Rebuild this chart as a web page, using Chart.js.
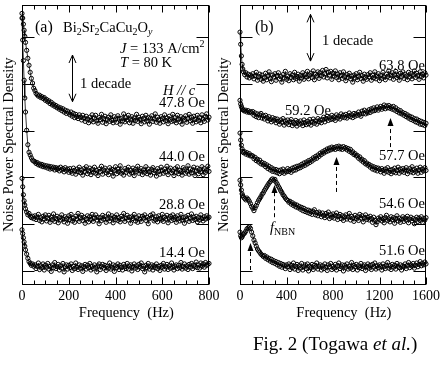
<!DOCTYPE html>
<html><head><meta charset="utf-8">
<script src="https://cdn.jsdelivr.net/npm/chart.js@4.4.1/dist/chart.umd.min.js"></script>
<style>
html,body{margin:0;padding:0;background:#fff;}
body{width:443px;height:375px;position:relative;overflow:hidden;font-family:'Liberation Serif','Times New Roman',serif;}
#ca{position:absolute;left:0;top:0;width:225px;height:330px;}
#cb{position:absolute;left:212px;top:0;width:231px;height:330px;}
#cap{position:absolute;left:253px;top:334px;font-size:19px;line-height:19px;white-space:nowrap;color:#000;}
</style></head><body>
<canvas id="ca" width="225" height="330"></canvas>
<canvas id="cb" width="231" height="330"></canvas>
<div id="cap">Fig. 2 (Togawa <i>et al.</i>)</div>
<script>
// ---------- DATA (values are log10 of noise power spectral density, arbitrary units) ----------
const freqA = [0,3,6,9,12,15,20,25,30,35,40,45,50,
 55,60,65,70,75,80,85,90,95,100, 105,110,115,120,125,130,135,140,145,150,
 155,160,165,170,175,180,185,190,195,200, 205,210,215,220,225,230,235,240,245,250,
 255,260,265,270,275,280,285,290,295,300, 305,310,315,320,325,330,335,340,345,350,
 355,360,365,370,375,380,385,390,395,400, 405,410,415,420,425,430,435,440,445,450,
 455,460,465,470,475,480,485,490,495,500, 505,510,515,520,525,530,535,540,545,550,
 555,560,565,570,575,580,585,590,595,600, 605,610,615,620,625,630,635,640,645,650,
 655,660,665,670,675,680,685,690,695,700, 705,710,715,720,725,730,735,740,745,750,
 755,760,765,770,775,780,785,790,795,800];
const freqB = [0,6,12,18,24,30,40,50,60,70,80,90,100,
 110,120,130,140,150,160,170,180,190,200, 210,220,230,240,250,260,270,280,290,300,
 310,320,330,340,350,360,370,380,390,400, 410,420,430,440,450,460,470,480,490,500,
 510,520,530,540,550,560,570,580,590,600, 610,620,630,640,650,660,670,680,690,700,
 710,720,730,740,750,760,770,780,790,800, 810,820,830,840,850,860,870,880,890,900,
 910,920,930,940,950,960,970,980,990,1000, 1010,1020,1030,1040,1050,1060,1070,1080,1090,1100,
 1110,1120,1130,1140,1150,1160,1170,1180,1190,1200, 1210,1220,1230,1240,1250,1260,1270,1280,1290,1300,
 1310,1320,1330,1340,1350,1360,1370,1380,1390,1400, 1410,1420,1430,1440,1450,1460,1470,1480,1490,1500,
 1510,1520,1530,1540,1550,1560,1570,1580,1590,1600];

const labelsA = ['47.8 Oe','44.0 Oe','28.8 Oe','14.4 Oe'];
const labelsB = ['63.8 Oe','59.2 Oe','57.7 Oe','54.6 Oe','51.6 Oe'];

const logS_478 = [5.51,5.41,5.28,5.15,5.02,4.89,4.72,4.55,4.40,4.25,4.12,4.02,3.91,
 3.86,3.80,3.77,3.74,3.76,3.71,3.73,3.69,3.71,3.65, 3.67,3.62,3.64,3.58,3.61,3.55,3.57,3.52,3.54,3.49,
 3.51,3.46,3.49,3.43,3.47,3.40,3.44,3.37,3.42,3.38, 3.34,3.40,3.31,3.37,3.28,3.35,3.30,3.26,3.34,3.29,
 3.23,3.33,3.27,3.20,3.31,3.25,3.17,3.29,3.22,3.34, 3.19,3.27,3.33,3.21,3.16,3.28,3.24,3.35,3.18,3.26,
 3.31,3.15,3.24,3.29,3.20,3.34,3.22,3.17,3.30,3.25, 3.18,3.32,3.27,3.14,3.26,3.21,3.36,3.19,3.28,3.23,
 3.33,3.17,3.25,3.30,3.16,3.27,3.22,3.35,3.20,3.29, 3.24,3.15,3.31,3.26,3.19,3.33,3.21,3.28,3.14,3.27,
 3.32,3.20,3.25,3.36,3.18,3.29,3.23,3.16,3.30,3.26, 3.19,3.34,3.22,3.27,3.15,3.31,3.24,3.20,3.35,3.21,
 3.28,3.17,3.33,3.25,3.19,3.30,3.14,3.27,3.23,3.32, 3.18,3.26,3.35,3.21,3.29,3.16,3.31,3.24,3.19,3.33,
 3.22,3.28,3.17,3.34,3.25,3.20,3.30,3.36,3.23,3.29];
const logS_440 = [5.41,4.94,4.50,4.08,3.70,3.40,3.01,2.70,2.54,2.48,2.42,2.37,2.35,
 2.34,2.30,2.32,2.27,2.29,2.25,2.28,2.23,2.26,2.22, 2.25,2.20,2.24,2.18,2.23,2.19,2.22,2.16,2.21,2.17,
 2.20,2.14,2.22,2.16,2.19,2.12,2.21,2.15,2.18,2.11, 2.19,2.13,2.09,2.20,2.15,2.07,2.18,2.12,2.22,2.10,
 2.16,2.05,2.19,2.13,2.23,2.08,2.14,2.20,2.06,2.17, 2.11,2.22,2.09,2.15,2.04,2.18,2.13,2.24,2.07,2.16,
 2.20,2.10,2.14,2.06,2.21,2.12,2.17,2.03,2.15,2.23, 2.08,2.18,2.12,2.25,2.09,2.14,2.05,2.19,2.11,2.16,
 2.22,2.07,2.15,2.10,2.20,2.04,2.17,2.13,2.24,2.09, 2.14,2.19,2.06,2.16,2.11,2.23,2.08,2.18,2.12,2.05,
 2.17,2.21,2.10,2.14,2.03,2.19,2.13,2.07,2.22,2.15, 2.09,2.18,2.12,2.24,2.06,2.16,2.20,2.10,2.14,2.04,
 2.19,2.11,2.23,2.08,2.15,2.12,2.05,2.21,2.17,2.09, 2.13,2.25,2.07,2.18,2.10,2.16,2.22,2.04,2.14,2.20,
 2.08,2.17,2.12,2.23,2.06,2.19,2.11,2.15,2.24,2.13];
const logS_288 = [1.98,1.80,1.63,1.50,1.41,1.33,1.26,1.20,1.23,1.17,1.14,1.17,1.12,
 1.18,1.10,1.15,1.21,1.08,1.14,1.05,1.17,1.11,1.20, 1.07,1.13,1.19,1.04,1.15,1.10,1.22,1.06,1.12,1.17,
 1.03,1.14,1.09,1.20,1.11,1.05,1.16,1.12,1.02,1.18, 1.10,1.21,1.07,1.13,1.04,1.17,1.11,1.23,1.06,1.14,
 1.19,1.08,1.15,1.02,1.12,1.18,1.05,1.16,1.10,1.21, 1.06,1.13,1.20,1.09,1.15,1.01,1.14,1.08,1.19,1.11,
 1.16,1.04,1.12,1.22,1.07,1.13,1.18,1.03,1.15,1.10, 1.20,1.08,1.14,1.05,1.17,1.11,1.23,1.06,1.13,1.19,
 1.09,1.15,1.02,1.16,1.12,1.21,1.07,1.14,1.04,1.18, 1.11,1.06,1.17,1.13,1.20,1.08,1.15,1.01,1.12,1.19,
 1.14,1.22,1.07,1.10,1.16,1.05,1.18,1.12,1.09,1.21, 1.06,1.15,1.11,1.19,1.03,1.13,1.17,1.08,1.20,1.10,
 1.15,1.04,1.18,1.12,1.07,1.21,1.09,1.14,1.02,1.16, 1.11,1.19,1.06,1.13,1.22,1.08,1.15,1.10,1.17,1.05,
 1.14,1.09,1.20,1.12,1.07,1.16,1.11,1.18,1.13,1.15];
const logS_144 = [0.88,0.80,0.71,0.62,0.53,0.45,0.36,0.27,0.20,0.16,0.12,0.15,0.10,
 0.13,0.05,0.10,0.17,0.03,0.11,0.07,0.15,0.02,0.12, 0.08,0.16,0.04,0.10,-0.01,0.13,0.07,0.18,0.05,0.09,
 0.14,0.02,0.11,0.06,0.16,-0.02,0.09,0.13,0.04,0.12, 0.07,0.15,0.01,0.10,0.05,0.17,0.08,0.03,0.13,0.06,
 0.11,-0.01,0.09,0.14,0.04,0.12,0.07,0.16,0.02,0.10, 0.05,0.13,0.08,-0.02,0.11,0.15,0.03,0.09,0.14,0.06,
 0.12,0.01,0.10,0.06,0.17,0.04,0.08,0.13,-0.01,0.11, 0.07,0.15,0.03,0.12,0.08,0.02,0.14,0.09,0.05,0.16,
 0.04,0.10,0.13,0.00,0.09,0.15,0.06,0.11,0.03,0.14, 0.08,0.17,0.05,0.10,-0.02,0.12,0.07,0.16,0.04,0.09,
 0.13,0.02,0.11,0.07,0.15,0.05,0.10,0.01,0.12,0.08, 0.16,0.04,0.09,0.14,0.03,0.11,0.06,0.17,0.08,0.02,
 0.10,0.13,0.05,0.12,0.07,0.18,0.04,0.09,0.15,0.06, 0.11,0.03,0.14,0.08,0.16,0.05,0.12,0.09,0.19,0.07,
 0.13,0.06,0.17,0.10,0.15,0.08,0.18,0.12,0.14,0.16];

const logS_638 = [5.11,4.85,4.60,4.42,4.32,4.26,4.20,4.24,4.15,4.21,4.13,4.19,4.16,
 4.22,4.11,4.18,4.25,4.08,4.16,4.21,4.10,4.19,4.06, 4.14,4.23,4.09,4.17,4.26,4.12,4.05,4.19,4.15,4.22,
 4.08,4.18,4.24,4.11,4.16,4.04,4.20,4.13,4.27,4.10, 4.17,4.07,4.22,4.14,4.19,4.09,4.25,4.12,4.16,4.21,
 4.06,4.18,4.13,4.24,4.10,4.20,4.15,4.27,4.11,4.19, 4.23,4.14,4.28,4.09,4.21,4.17,4.26,4.12,4.24,4.18,
 4.29,4.15,4.22,4.31,4.13,4.25,4.19,4.27,4.10,4.23, 4.17,4.28,4.14,4.21,4.09,4.24,4.18,4.12,4.26,4.16,
 4.07,4.20,4.14,4.23,4.11,4.17,4.04,4.19,4.13,4.22, 4.09,4.16,4.25,4.12,4.18,4.06,4.21,4.14,4.10,4.20,
 4.15,4.24,4.08,4.19,4.13,4.26,4.11,4.17,4.22,4.07, 4.18,4.12,4.25,4.15,4.09,4.21,4.16,4.28,4.13,4.19,
 4.24,4.10,4.20,4.27,4.14,4.18,4.08,4.23,4.16,4.26, 4.12,4.21,4.17,4.09,4.25,4.15,4.22,4.11,4.19,4.28,
 4.14,4.23,4.18,4.10,4.26,4.16,4.21,4.13,4.24,4.19];
const logS_592 = [3.65,3.57,3.52,3.48,3.45,3.44,3.42,3.44,3.40,3.43,3.39,3.41,3.38,
 3.41,3.33,3.38,3.30,3.36,3.28,3.34,3.37,3.27,3.32, 3.25,3.33,3.28,3.21,3.30,3.24,3.19,3.28,3.22,3.26,
 3.17,3.25,3.20,3.14,3.23,3.18,3.26,3.12,3.21,3.16, 3.23,3.13,3.19,3.24,3.11,3.18,3.15,3.22,3.10,3.19,
 3.14,3.21,3.16,3.11,3.23,3.17,3.13,3.20,3.15,3.24, 3.12,3.19,3.25,3.16,3.21,3.14,3.26,3.19,3.23,3.17,
 3.24,3.29,3.19,3.26,3.31,3.22,3.28,3.24,3.33,3.25, 3.30,3.22,3.34,3.27,3.31,3.25,3.36,3.29,3.33,3.28,
 3.35,3.27,3.32,3.38,3.30,3.34,3.28,3.37,3.31,3.36, 3.33,3.40,3.35,3.31,3.42,3.37,3.44,3.36,3.41,3.38,
 3.45,3.39,3.47,3.42,3.49,3.43,3.46,3.51,3.44,3.48, 3.52,3.46,3.50,3.55,3.47,3.53,3.49,3.54,3.48,3.51,
 3.46,3.52,3.44,3.49,3.41,3.45,3.38,3.43,3.36,3.39, 3.33,3.37,3.30,3.34,3.27,3.31,3.24,3.29,3.22,3.26,
 3.19,3.25,3.17,3.22,3.14,3.20,3.13,3.18,3.11,3.16];
const logS_577 = [2.95,2.80,2.69,2.61,2.56,2.53,2.55,2.50,2.53,2.48,2.51,2.46,2.47,
 2.46,2.40,2.43,2.36,2.39,2.33,2.37,2.29,2.32,2.27, 2.30,2.23,2.27,2.19,2.24,2.16,2.21,2.13,2.18,2.12,
 2.17,2.10,2.15,2.08,2.16,2.11,2.18,2.09,2.14,2.12, 2.19,2.13,2.17,2.11,2.20,2.15,2.22,2.16,2.24,2.19,
 2.25,2.21,2.28,2.24,2.31,2.26,2.33,2.29,2.36,2.32, 2.38,2.35,2.42,2.39,2.45,2.41,2.48,2.45,2.52,2.49,
 2.55,2.52,2.58,2.55,2.61,2.57,2.63,2.59,2.65,2.61, 2.64,2.60,2.66,2.62,2.67,2.61,2.65,2.60,2.66,2.62,
 2.64,2.59,2.62,2.56,2.60,2.53,2.55,2.49,2.51,2.46, 2.47,2.41,2.44,2.37,2.39,2.33,2.36,2.29,2.31,2.26,
 2.28,2.22,2.25,2.18,2.23,2.16,2.21,2.14,2.20,2.17, 2.12,2.19,2.15,2.09,2.18,2.13,2.21,2.11,2.16,2.08,
 2.17,2.12,2.20,2.10,2.15,2.22,2.09,2.18,2.13,2.19, 2.11,2.16,2.21,2.08,2.14,2.19,2.12,2.23,2.10,2.17,
 2.13,2.20,2.09,2.16,2.22,2.11,2.18,2.14,2.21,2.15];
const logS_546 = [1.94,1.84,1.73,1.65,1.61,1.58,1.55,1.52,1.56,1.53,1.49,1.44,1.38,
 1.34,1.29,1.35,1.40,1.46,1.51,1.55,1.59,1.64,1.67, 1.72,1.76,1.80,1.84,1.88,1.91,1.95,1.97,1.94,1.96,
 1.90,1.86,1.81,1.77,1.72,1.68,1.63,1.60,1.56,1.53, 1.51,1.47,1.49,1.43,1.46,1.40,1.43,1.37,1.41,1.35,
 1.38,1.32,1.36,1.29,1.34,1.27,1.31,1.25,1.30,1.23, 1.28,1.21,1.27,1.31,1.20,1.25,1.18,1.26,1.22,1.16,
 1.24,1.19,1.14,1.23,1.17,1.26,1.12,1.20,1.15,1.22, 1.13,1.19,1.24,1.10,1.17,1.21,1.12,1.18,1.08,1.16,
 1.20,1.11,1.15,1.23,1.09,1.17,1.13,1.06,1.19,1.12, 1.16,1.08,1.21,1.13,1.18,1.05,1.14,1.20,1.10,1.15,
 1.09,1.17,1.12,1.04,1.15,1.08,0.99,1.05,1.13,1.10, 1.16,1.07,1.12,1.03,1.14,1.19,1.08,1.11,1.05,1.16,
 1.10,1.14,1.02,1.12,1.18,1.07,1.13,1.04,1.11,1.16, 1.06,1.13,1.09,1.17,1.03,1.11,1.15,1.07,1.12,1.01,
 1.10,1.15,1.06,1.13,1.08,1.16,1.04,1.12,1.09,1.14];
const logS_516 = [0.83,0.75,0.71,0.73,0.77,0.79,0.81,0.85,0.90,0.92,0.94,0.91,0.83,
 0.75,0.66,0.60,0.53,0.47,0.43,0.40,0.36,0.34,0.31, 0.33,0.27,0.30,0.24,0.27,0.21,0.25,0.18,0.22,0.16,
 0.20,0.13,0.18,0.10,0.16,0.08,0.14,0.11,0.05,0.13, 0.09,0.15,0.03,0.12,0.07,0.17,0.04,0.10,0.14,0.01,
 0.11,0.06,0.16,0.02,0.09,0.13,0.05,0.15,0.00,0.10, 0.07,0.14,0.03,0.12,0.08,0.17,0.04,0.10,0.13,0.02,
 0.11,0.05,0.15,0.08,0.01,0.13,0.09,0.16,0.03,0.10, 0.06,0.14,0.02,0.11,0.17,0.05,0.09,0.13,0.00,0.12,
 0.08,0.15,0.04,0.10,0.06,0.18,0.03,0.12,0.09,0.14, 0.02,0.11,0.07,0.16,0.05,0.10,0.13,0.01,0.09,0.15,
 0.06,0.12,0.03,0.14,0.08,0.17,0.04,0.11,0.07,0.13, 0.10,0.02,0.15,0.09,0.05,0.12,0.18,0.06,0.11,0.03,
 0.14,0.08,0.12,0.04,0.16,0.10,0.07,0.13,0.02,0.11, 0.09,0.15,0.05,0.12,0.18,0.07,0.13,0.10,0.16,0.06,
 0.12,0.17,0.09,0.14,0.20,0.11,0.16,0.13,0.19,0.15];

const seriesA = [logS_478, logS_440, logS_288, logS_144];
const seriesB = [logS_638, logS_592, logS_577, logS_546, logS_516];

const xTicksA = [0,50,100,150,200,250,300,350,400,450,500,550,600,650,700,750,800];
const xLabelsA = [0,200,400,600,800];
const xTicksB = [0,100,200,300,400,500,600,700,800,900,1000,1100,1200,1300,1400,1500,1600];
const xLabelsB = [0,400,800,1200,1600];
const yDecades = [0,1,2,3,4,5];
const yRange = [-0.29, 5.69];

// peak markers (f, log10 head, log10 tail) and "1 decade" bars
const peakArrowsB = [[85,0.60,0.02],[290,1.84,1.15],[830,2.44,1.69],[1290,3.27,2.65]];
const decadeBarA = [215, 3.62, 4.62];
const decadeBarB = [600, 4.49, 5.49];

// ---------- DRAWING ----------
const FONT = "'Liberation Serif','Times New Roman',serif";
Chart.defaults.font.family = FONT;
Chart.defaults.color = '#000';

function drawRuns(ctx, t) {
  let w = 0;
  const fnt = r => (r[2] ? 'italic ' : '') + r[1] + 'px ' + FONT;
  t.runs.forEach(r => { ctx.font = fnt(r); w += ctx.measureText(r[0]).width; });
  let cx = t.align === 'right' ? t.x - w : t.x;
  ctx.textAlign = 'left'; ctx.textBaseline = 'alphabetic';
  t.runs.forEach(r => { ctx.font = fnt(r); ctx.fillText(r[0], cx, t.y + (r[3] || 0)); cx += ctx.measureText(r[0]).width; });
}

function deco(ann) {
  return { id: 'deco', afterDraw(chart) {
    const ctx = chart.ctx, a = chart.chartArea, xs = chart.scales.x, ys = chart.scales.y;
    const yp = d => ys.getPixelForValue(Math.pow(10, d));
    ctx.save();
    ctx.strokeStyle = '#000'; ctx.fillStyle = '#000'; ctx.lineWidth = 1;
    const L = Math.round(a.left) + 0.5, R = Math.round(a.right) - 0.5, T = Math.round(a.top) + 0.5, B = Math.round(a.bottom) - 0.5;
    ctx.strokeRect(L, T, R - L, B - T);
    ctx.beginPath();
    ann.xTicks.forEach(v => {
      const px = Math.round(xs.getPixelForValue(v)) + 0.5;
      const len = ann.xLabels.includes(v) ? 7 : 4;
      ctx.moveTo(px, B); ctx.lineTo(px, B - len);
      ctx.moveTo(px, T); ctx.lineTo(px, T + len);
    });
    yDecades.forEach(d => {
      const py = Math.round(yp(d)) + 0.5;
      ctx.moveTo(L, py); ctx.lineTo(L + 12, py);
      ctx.moveTo(R, py); ctx.lineTo(R - 12, py);
    });
    ctx.stroke();
    const db = ann.decade;
    {
      const x = Math.round(xs.getPixelForValue(db[0])) + 0.5, y0 = yp(db[1]), y1 = yp(db[2]);
      ctx.beginPath();
      ctx.moveTo(x, y0); ctx.lineTo(x, y1);
      ctx.moveTo(x - 3.5, y1 + 8); ctx.lineTo(x, y1); ctx.lineTo(x + 3.5, y1 + 8);
      ctx.moveTo(x - 3.5, y0 - 8); ctx.lineTo(x, y0); ctx.lineTo(x + 3.5, y0 - 8);
      ctx.stroke();
    }
    (ann.peaks || []).forEach(p => {
      const x = Math.round(xs.getPixelForValue(p[0])) + 0.5, yh = yp(p[1]), yt = yp(p[2]);
      ctx.setLineDash([4, 3]);
      ctx.beginPath(); ctx.moveTo(x, yt); ctx.lineTo(x, yh + 7); ctx.stroke();
      ctx.setLineDash([]);
      ctx.beginPath(); ctx.moveTo(x, yh); ctx.lineTo(x - 3, yh + 8); ctx.lineTo(x + 3, yh + 8); ctx.closePath(); ctx.fill();
    });
    ann.texts.forEach(t => drawRuns(ctx, t));
    ctx.restore();
  }};
}

function makeChart(id, freq, series, labels, xmax, xLabels, yWidth, yTitlePad, padRight, ann) {
  return new Chart(document.getElementById(id), {
    type: 'scatter',
    data: { datasets: series.map((s, k) => ({
      label: labels[k],
      data: freq.map((f, i) => ({ x: f, y: Math.pow(10, s[i]) })),
      showLine: true, borderColor: '#000', borderWidth: 0.8,
      pointRadius: 2.1, pointBorderWidth: 1, pointBackgroundColor: 'rgba(255,255,255,0)', pointBorderColor: '#000',
      clip: false, tension: 0
    })) },
    options: {
      responsive: false, animation: false, devicePixelRatio: 1,
      layout: { padding: { left: 0, right: padRight, top: 4.5, bottom: 0 } },
      plugins: { legend: { display: false }, tooltip: { enabled: false } },
      scales: {
        x: { type: 'linear', min: 0, max: xmax, position: 'bottom',
          grid: { display: false, drawTicks: false }, border: { display: false },
          afterBuildTicks: s => { s.ticks = xLabels.map(v => ({ value: v })); },
          afterFit: s => { s.height = 45.5; },
          ticks: { color: '#000', padding: 3, font: { family: FONT, size: 14 }, autoSkip: false, maxRotation: 0, callback: v => String(v) },
          title: { display: true, text: '\u2003\u2002Frequency  (Hz)', color: '#000', font: { family: FONT, size: 14.5 }, padding: { top: 0, bottom: 8.3 } } },
        y: { type: 'logarithmic', min: Math.pow(10, yRange[0]), max: Math.pow(10, yRange[1]),
          grid: { display: false, drawTicks: false }, border: { display: false },
          ticks: { display: false },
          afterFit: s => { s.width = yWidth; },
          title: { display: true, text: 'Noise Power Spectral Density', color: '#000', font: { family: FONT, size: 14.5 }, padding: { top: yTitlePad, bottom: 0 } } }
      }
    },
    plugins: [deco(ann)]
  });
}

const S = 14.5, SB = 10;
const annA = {
  xTicks: xTicksA, xLabels: xLabelsA, decade: decadeBarA,
  texts: [
    { x: 35, y: 32, runs: [['(a)', 16]] },
    { x: 63, y: 32, runs: [['Bi', S], ['2', SB, false, 3], ['Sr', S], ['2', SB, false, 3], ['CaCu', S], ['2', SB, false, 3], ['O', S], ['y', SB, true, 3]] },
    { x: 120, y: 53, runs: [['J', S, true], [' = 133 A/cm', S], ['2', SB, false, -6]] },
    { x: 120, y: 67, runs: [['T', S, true], [' = 80 K', S]] },
    { x: 80, y: 88, runs: [['1 decade', S]] },
    { x: 163, y: 95, runs: [['H', S, true], [' // ', S, true], ['c', S, true]] },
    { x: 205, y: 107, align: 'right', runs: [[labelsA[0], S]] },
    { x: 205, y: 161, align: 'right', runs: [[labelsA[1], S]] },
    { x: 205, y: 209, align: 'right', runs: [[labelsA[2], S]] },
    { x: 205, y: 257, align: 'right', runs: [[labelsA[3], S]] }
  ]
};
const annB = {
  xTicks: xTicksB, xLabels: xLabelsB, decade: decadeBarB, peaks: peakArrowsB,
  texts: [
    { x: 43, y: 32, runs: [['(b)', 16]] },
    { x: 110, y: 45, runs: [['1 decade', S]] },
    { x: 213, y: 70, align: 'right', runs: [[labelsB[0], S]] },
    { x: 73, y: 115, runs: [[labelsB[1], S]] },
    { x: 213, y: 160, align: 'right', runs: [[labelsB[2], S]] },
    { x: 213, y: 208, align: 'right', runs: [[labelsB[3], S]] },
    { x: 213, y: 255, align: 'right', runs: [[labelsB[4], S]] },
    { x: 58, y: 232, runs: [['f', S, true], ['NBN', SB, false, 3]] }
  ]
};

makeChart('ca', freqA, seriesA, labelsA, 800, xLabelsA, 22, 0.3, 16, annA);
makeChart('cb', freqB, seriesB, labelsB, 1600, xLabelsB, 28, 3.3, 15, annB);
</script>
</body></html>
